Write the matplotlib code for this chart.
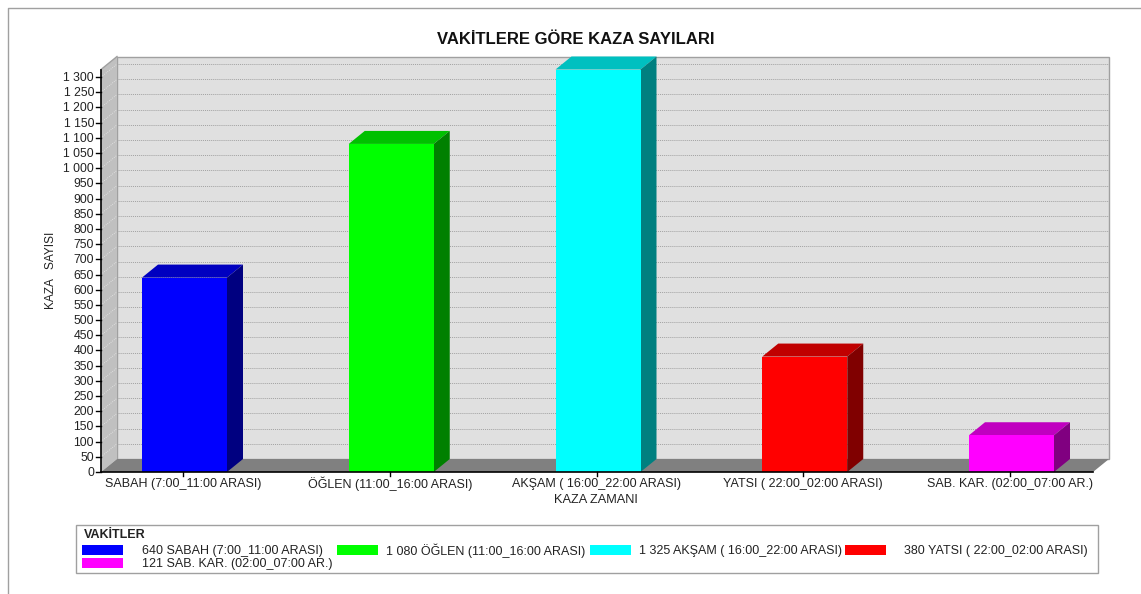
import matplotlib
matplotlib.use("Agg")
import matplotlib.pyplot as plt
from matplotlib.patches import Polygon, Rectangle

plt.rcParams["font.family"] = ["Liberation Sans", "DejaVu Sans"]

categories = ["SABAH (7:00_11:00 ARASI)", "ÖĞLEN (11:00_16:00 ARASI)",
              "AKŞAM ( 16:00_22:00 ARASI)", "YATSI ( 22:00_02:00 ARASI)",
              "SAB. KAR. (02:00_07:00 AR.)"]
values = [640, 1080, 1325, 380, 121]
legend_labels = ["640 SABAH (7:00_11:00 ARASI)", "1 080 ÖĞLEN (11:00_16:00 ARASI)",
                 "1 325 AKŞAM ( 16:00_22:00 ARASI)", "380 YATSI ( 22:00_02:00 ARASI)",
                 "121 SAB. KAR. (02:00_07:00 AR.)"]
front_colors = ["#0000ff", "#00ff00", "#00ffff", "#ff0000", "#ff00ff"]
top_colors = ["#0000c0", "#00c000", "#00c0c0", "#c00000", "#c000c0"]
side_colors = ["#000080", "#008000", "#008080", "#800000", "#800080"]
yticks = list(range(0, 1301, 50))

W, H = 1141, 594
fig = plt.figure(figsize=(W / 100, H / 100), dpi=100, facecolor="white")
ax = fig.add_axes([101 / W, 1 - 472 / H, 992 / W, 402.5 / H])

# px sizes turned into data units
step = 206.75
ax.set_xlim(-82 / step, 4 + 83 / step)
ax.set_ylim(0, 1325)
dx = 16 / step
dy = 13 * 1325 / 402.5
x0, x1 = ax.get_xlim()
y1 = ax.get_ylim()[1]
ax.axis("off")


def poly(pts, color, z=1, edge="none", lw=0):
    ax.add_patch(Polygon(pts, closed=True, facecolor=color, edgecolor=edge,
                         linewidth=lw, zorder=z, clip_on=False))


# walls and floor
poly([(x0 + dx, dy), (x1 + dx, dy), (x1 + dx, y1 + dy), (x0 + dx, y1 + dy)],
     "#e0e0e0", 1, "#a0a0a0", 1)
poly([(x0, 0), (x0 + dx, dy), (x0 + dx, y1 + dy), (x0, y1)], "#c0c0c0", 1)
ax.plot([x0, x0 + dx], [y1, y1 + dy], color="#a0a0a0", lw=1, zorder=2, clip_on=False)
poly([(x0, 0), (x1, 0), (x1 + dx, dy), (x0 + dx, dy)], "#808080", 2)

# gridlines, on the back wall and going across the left wall
for t in yticks[1:]:
    ax.plot([x0 + dx, x1 + dx], [t + dy, t + dy], color="#a2a2a2", lw=0.7, ls=(0, (1, 1)),
            zorder=3, clip_on=False)
    ax.plot([x0, x0 + dx], [t, t + dy], color="#e8e8e8", lw=0.6, ls=(0, (1, 1.5)),
            zorder=3, clip_on=False)

# 3d bars
bw = 85 / step
for i, v in enumerate(values):
    l = i - bw / 2 + 1.5 / step
    r = l + bw
    poly([(l, v), (r, v), (r + dx, v + dy), (l + dx, v + dy)], top_colors[i], 4)
    poly([(r, 0), (r + dx, dy), (r + dx, v + dy), (r, v)], side_colors[i], 4)
    ax.add_patch(Rectangle((l, 0), bw, v, facecolor=front_colors[i], zorder=5, clip_on=False))

# axes lines and ticks
ax.plot([x0, x0], [0, y1], color="black", lw=1.2, zorder=6, clip_on=False)
ax.plot([x0, x1], [0, 0], color="black", lw=1.2, zorder=6, clip_on=False)
tick_x = 5 / step
tick_y = 4 * 1325 / 402.5
for t in yticks:
    ax.plot([x0 - tick_x, x0], [t, t], color="black", lw=1, zorder=6, clip_on=False)
    label = f"{t:,}".replace(",", " ")
    ax.text(x0 - 7 / step, t - 1 * 1325 / 402.5, label, ha="right", va="center", fontsize=8.8,
            color="#222222", clip_on=False)
for i, c in enumerate(categories):
    ax.plot([i, i], [0, -tick_y], color="black", lw=1, zorder=6, clip_on=False)
    ax.text(i, -12 * 1325 / 402.5, c, ha="center", va="center", fontsize=9, color="#222222")

fig.text(576 / W, 1 - 39 / H, "VAKİTLERE GÖRE KAZA SAYILARI", ha="center", va="center",
         fontsize=12, fontweight="bold", color="#111111")
fig.text(596 / W, 1 - 500 / H, "KAZA ZAMANI", ha="center", va="center", fontsize=9.2, color="#222222")
fig.text(51 / W, 1 - 270 / H, "KAZA   SAYISI", ha="center", va="center", rotation=90,
         fontsize=8.6, color="#222222")


def px_rect(x, y, w, h, face="none", edge="none", lw=0, z=2):
    fig.add_artist(Rectangle((x / W, 1 - (y + h) / H), w / W, h / H, transform=fig.transFigure,
                             facecolor=face, edgecolor=edge, linewidth=lw, zorder=z))


# page border
fig.add_artist(plt.Line2D([8 / W, 8 / W, 1], [0, 1 - 7.5 / H, 1 - 7.5 / H],
                          color="#a0a0a0", lw=1))

# legend
px_rect(76, 525, 1022, 48, "white", "#a0a0a0", 1, 2)
fig.text(84 / W, 1 - 535 / H, "VAKİTLER", ha="left", va="center", fontsize=9,
         fontweight="bold", color="#222222", zorder=3)
swatch_x = [82, 337, 590, 845, 82]
text_x = [142, 386, 639, 904, 142]
row_y = [550, 550, 550, 550, 563]
for i, lab in enumerate(legend_labels):
    px_rect(swatch_x[i], row_y[i] - 5, 41, 10, front_colors[i], z=3)
    fig.text(text_x[i] / W, 1 - (row_y[i] + 1) / H, lab, ha="left", va="center", fontsize=9,
             color="#222222", zorder=3)

fig.savefig("out.png", dpi=100)
